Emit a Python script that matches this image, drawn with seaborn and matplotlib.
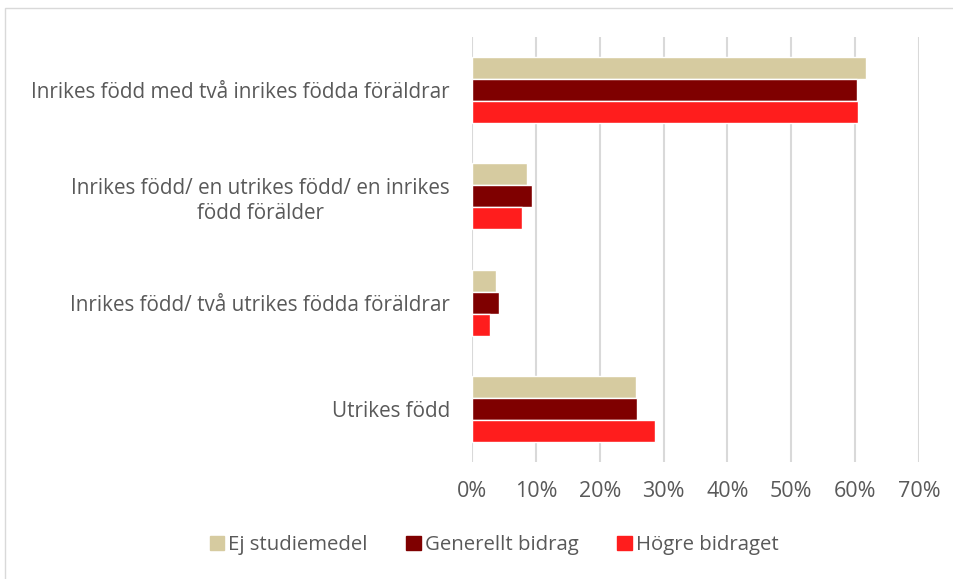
import pandas as pd
import matplotlib.pyplot as plt
import matplotlib.patches as mpatches
import seaborn as sns

sns.set_style("white")
plt.rcParams['font.family'] = ['Open Sans', 'DejaVu Sans']

categories = ['Inrikes född med två inrikes födda föräldrar',
              'Inrikes född/ en utrikes född/ en inrikes\nfödd förälder',
              'Inrikes född/ två utrikes födda föräldrar',
              'Utrikes född']
series = ['Ej studiemedel', 'Generellt bidrag', 'Högre bidraget']
ej = [61.7, 8.6, 3.7, 25.7]
generellt = [60.3, 9.4, 4.2, 25.9]
hogre = [60.5, 7.8, 2.8, 28.6]
colors = ['#D6CBA0', '#7F0000', '#FF1D1D']

rows = []
for name, vals in zip(series, [ej, generellt, hogre]):
    for cat, v in zip(categories, vals):
        rows.append({'Kategori': cat, 'Grupp': name, 'Andel': v})
df = pd.DataFrame(rows)

fig = plt.figure(figsize=(9.54, 5.79), dpi=100)
ax = fig.add_axes([0.4948, 0.202, 0.4685, 0.734])
sns.barplot(data=df, y='Kategori', x='Andel', hue='Grupp', orient='h',
            palette=colors, width=0.62, ax=ax, legend=False, saturation=1)

ax.set_xlim(0, 70)
ax.set_xticks(range(0, 71, 10))
ax.set_xticklabels([f'{t}%' for t in range(0, 71, 10)])
ax.set_xlabel('')
ax.set_ylabel('')
ax.xaxis.grid(True, color='#D9D9D9', linewidth=1.5)
ax.set_axisbelow(True)
for s in ax.spines.values():
    s.set_visible(False)
ax.tick_params(axis='x', colors='#595959', labelsize=15.5, length=0, pad=14)
ax.tick_params(axis='y', colors='#595959', labelsize=14.9, length=0, pad=16)
for lbl in ax.get_yticklabels():
    lbl.set_multialignment('center')
    lbl.set_linespacing(1.25)

handles = [mpatches.Patch(color=c, label=n) for n, c in zip(series, colors)]
fig.legend(handles=handles, loc='center', bbox_to_anchor=(0.518, 0.058), ncol=3,
           frameon=False, fontsize=14.7, labelcolor='#595959',
           handlelength=0.7, handleheight=0.7, handletextpad=0.2, columnspacing=1.9)

# chart frame
fig.patches.append(mpatches.Rectangle((5 / 954, -0.1), 1.1, 1 - 8 / 579 + 0.1,
                                      transform=fig.transFigure, fill=False,
                                      edgecolor='#D9D9D9', linewidth=1))

plt.savefig('out.png', dpi=100)
